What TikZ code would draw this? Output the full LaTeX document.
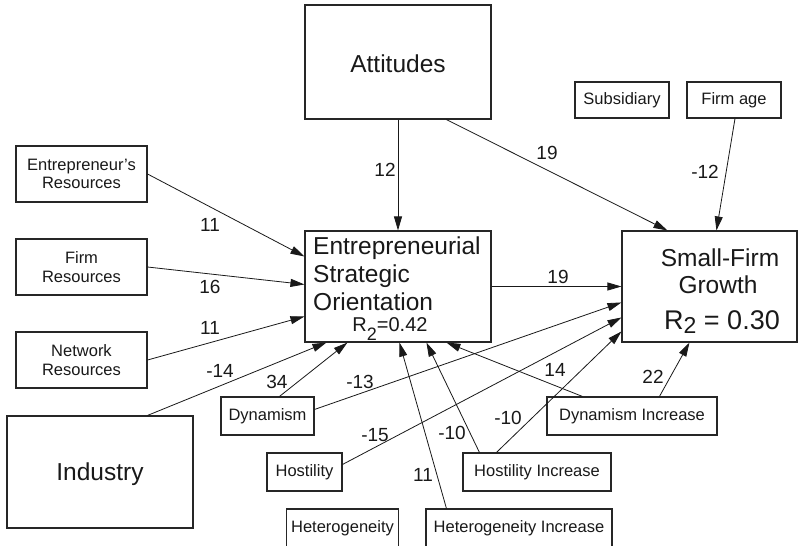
\documentclass[tikz,border=0pt]{standalone}
\usepackage{fontspec}
\setmainfont{Liberation Sans}
\usetikzlibrary{arrows.meta,calc}
\begin{document}
\begin{tikzpicture}[x=1pt,y=-1pt,
  bx/.style={draw=black!85, line width=1.1pt, inner sep=0pt, fill=white},
  sm/.style={font=\fontsize{16.5}{18.5}\selectfont, align=center, text=black!90},
  lab/.style={font=\fontsize{19}{22}\selectfont, inner sep=0pt, text=black!90},
  big/.style={font=\fontsize{24.5}{28}\selectfont, inner sep=0pt, text=black!90},
  arr/.style={-{Triangle[length=14pt,width=8pt]}, line width=0.8pt, draw=black!90},
  con/.style={line width=0.8pt, draw=black!90}]
\useasboundingbox (0,0) rectangle (801,546);
\fill[white] (0,0) rectangle (801,546);
% boxes
\node[bx, minimum width=186pt, minimum height=114pt] (att) at (398,62) {};
\node[big, anchor=base] (attt) at (398,72) {Attitudes};
\node[bx, sm, minimum width=94pt, minimum height=36pt] (sub) at (622,100) {Subsidiary};
\node[bx, sm, minimum width=94pt, minimum height=36pt] (age) at (734,100) {Firm age};
\node[bx, sm, minimum width=131pt, minimum height=56pt] (er) at (81.5,174) {Entrepreneur's\\Resources};
\node[bx, sm, minimum width=131pt, minimum height=56pt] (fr) at (81.5,267) {Firm\\Resources};
\node[bx, sm, minimum width=131pt, minimum height=56pt] (nr) at (81.5,360) {Network\\Resources};
\node[bx, minimum width=186pt, minimum height=112pt] (ind) at (100,472) {};
\node[big, anchor=base] (indt) at (100,480) {Industry};
\node[bx, minimum width=186pt, minimum height=111pt] (eso) at (398,286.5) {};
\node[big, anchor=base west] (esot1) at (313,254) {Entrepreneurial};
\node[big, anchor=base west] (esot2) at (313,282) {Strategic};
\node[big, anchor=base west] (esot3) at (313,310) {Orientation};
\node[anchor=base, inner sep=0pt, font=\fontsize{20}{22}\selectfont, text=black!90] (esor) at (390,331) {R\raisebox{-9pt}{\fontsize{18}{18}\selectfont 2}=0.42};
\node[bx, minimum width=175pt, minimum height=111pt] (sfg) at (709.5,286.5) {};
\node[big, anchor=base] (sfgt1) at (720,266) {Small-Firm};
\node[big, anchor=base] (sfgt2) at (718,293) {Growth};
\node[anchor=base, inner sep=0pt, font=\fontsize{27}{30}\selectfont, text=black!90] (sfgr) at (722,329) {R\raisebox{-4pt}{\fontsize{23}{23}\selectfont 2} = 0.30};
\node[bx, sm, minimum width=93pt, minimum height=38pt] (dyn) at (267.5,416) {Dynamism};
\node[bx, sm, minimum width=75pt, minimum height=38pt] (hos) at (304.5,472) {Hostility};
\node[bx, sm, minimum width=112pt, minimum height=38pt] (het) at (342.5,528) {Heterogeneity};
\node[bx, sm, minimum width=148pt, minimum height=38pt] (hoi) at (537,472) {Hostility Increase};
\node[bx, sm, minimum width=186pt, minimum height=38pt] (hei) at (519,528) {Heterogeneity Increase};
\node[bx, sm, minimum width=170pt, minimum height=38pt] (dyi) at (632,416) {Dynamism Increase};
% connectors
\draw[arr] (att.south) -- (eso.north);
\draw[arr] ($(att.south west)+(142,0)$) -- ($(sfg.north west)+(46,0)$);
\draw[arr] ($(age.south)+(1,0)$) -- ($(sfg.north west)+(95,0)$);
\draw[arr] (er.east) -- ($(eso.north west)+(0,26)$);
\draw[arr] (fr.east) -- ($(eso.north west)+(0,54)$);
\draw[arr] (nr.east) -- ($(eso.north west)+(0,86)$);
\draw[arr] ($(ind.north west)+(141,0)$) -- ($(eso.south west)+(22,0)$);
\draw[arr] ($(dyn.north west)+(59,0)$) -- ($(eso.south west)+(43,0)$);
\draw[arr] ($(dyn.north east)+(0,13)$) -- ($(sfg.north west)+(0,72)$);
\draw[arr] ($(hos.north east)+(0,12)$) -- ($(sfg.north west)+(0,87)$);
\draw[arr] ($(hoi.north west)+(34,0)$) -- ($(sfg.north west)+(0,101)$);
\draw[arr] ($(hoi.north west)+(17,0)$) -- ($(eso.south west)+(122,0)$);
\draw[arr] ($(hei.north west)+(21,0)$) -- ($(eso.south west)+(95,0)$);
\draw[arr] ($(dyi.north west)+(36,0)$) -- ($(eso.south west)+(142,0)$);
\draw[arr] ($(dyi.north west)+(113,0)$) -- ($(sfg.south west)+(68,0)$);
\draw[arr] (eso.east) -- (sfg.west);
% labels
\node[lab] (l1) at (385,170) {12};
\node[lab] (l2) at (547,153) {19};
\node[lab] (l3) at (705,172) {-12};
\node[lab] (l4) at (210,225) {11};
\node[lab] (l5) at (210,287) {16};
\node[lab] (l6) at (210,328) {11};
\node[lab] (l7) at (220,371) {-14};
\node[lab] (l8) at (277,382) {34};
\node[lab] (l9) at (360,382) {-13};
\node[lab] (l10) at (375,435) {-15};
\node[lab] (l11) at (452,433) {-10};
\node[lab] (l12) at (508,418) {-10};
\node[lab] (l13) at (423,475) {11};
\node[lab] (l14) at (555,370) {14};
\node[lab] (l15) at (653,377) {22};
\node[lab] (l16) at (558,277) {19};
\end{tikzpicture}
\end{document}
